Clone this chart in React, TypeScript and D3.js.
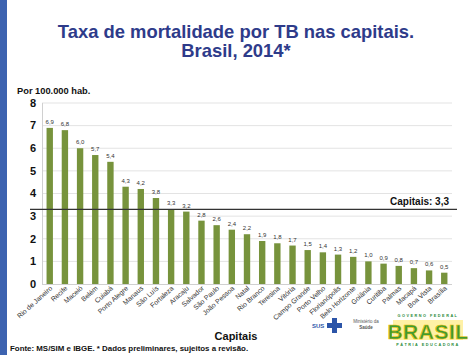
import React from "react";
import * as d3 from "d3";

const cities = ["Rio de Janeiro","Recife","Maceió","Belém","Cuiabá","Porto Alegre","Manaus","São Luís","Fortaleza","Aracaju","Salvador","São Paulo","João Pessoa","Natal","Rio Branco","Teresina","Vitória","Campo Grande","Porto Velho","Florianópolis","Belo Horizonte","Goiânia","Curitiba","Palmas","Macapá","Boa Vista","Brasília"];
const rates = [6.9,6.8,6.0,5.7,5.4,4.3,4.2,3.8,3.3,3.2,2.8,2.6,2.4,2.2,1.9,1.8,1.7,1.5,1.4,1.3,1.2,1.0,0.9,0.8,0.7,0.6,0.5];
const yTicks = [0,1,2,3,4,5,6,7,8];
const capitalsAvg = 3.3;

const fmt = (v: number) => v.toFixed(1).replace(".", ",");

export default function App() {
  const W = 474, H = 355;
  const x = d3.scaleBand<string>().domain(cities).range([42, 452]).paddingInner(0.58).paddingOuter(0.3);
  const y = d3.scaleLinear().domain([0, 8]).range([284, 103]);
  const green = "#77933c";
  const font = "Liberation Sans, Arial, Helvetica, sans-serif";
  return (
    <svg width={W} height={H} style={{ position: "absolute", left: 0, top: 0, background: "#fff" }} fontFamily={font}>
      <rect x={0} y={0} width={W} height={H} fill="#fff" />
      <rect x={0} y={0} width={7} height={H} fill="#3d63b0" />
      <text x={236} y={37.5} textAnchor="middle" fontSize={18.4} fontWeight="bold" fill="#2e3b8a">Taxa de mortalidade por TB nas capitais.</text>
      <text x={236} y={57} textAnchor="middle" fontSize={18.4} fontWeight="bold" fill="#2e3b8a">Brasil, 2014*</text>
      <text x={17} y={94} fontSize={9.3} fontWeight="bold" fill="#111">Por 100.000 hab.</text>
      {yTicks.map(t => (
        <g key={t}>
          {t > 0 && <line x1={42} x2={452} y1={y(t)} y2={y(t)} stroke="#e3e3e3" strokeWidth={1} />}
          <text x={36} y={y(t)} dy="0.35em" textAnchor="end" fontSize={11} fontWeight="bold" fill="#111">{t}</text>
        </g>
      ))}
      <line x1={42.5} x2={42.5} y1={103} y2={284} stroke="#d0d0d0" />
      <line x1={42} x2={452} y1={284.5} y2={284.5} stroke="#d0d0d0" />
      {cities.map((c, i) => {
        const cx = (x(c) as number) + x.bandwidth() / 2;
        return (
          <g key={c}>
            <rect x={x(c)} y={y(rates[i])} width={x.bandwidth()} height={y(0) - y(rates[i])} fill={green} />
            <text x={cx} y={y(rates[i]) - 4} textAnchor="middle" fontSize={6} fill="#333">{fmt(rates[i])}</text>
            <text transform={`translate(${cx + 3},${289}) rotate(-42)`} textAnchor="end" fontSize={6.9} fill="#333">{c}</text>
          </g>
        );
      })}
      <line x1={30} x2={457} y1={y(capitalsAvg)} y2={y(capitalsAvg)} stroke="#333" strokeWidth={1.3} />
      <text x={449} y={y(capitalsAvg) - 4} textAnchor="end" fontSize={10} fontWeight="bold" fill="#111">Capitais: {fmt(capitalsAvg)}</text>
      <text x={236} y={340} textAnchor="middle" fontSize={11} fontWeight="bold" fill="#111">Capitais</text>
      <text x={10} y={351} fontSize={7.9} fontWeight="bold" fill="#111">Fonte: MS/SIM e IBGE. * Dados preliminares, sujeitos a revisão.</text>
      {/* logos */}
      <text x={312} y={328} fontSize={6} fontWeight="bold" fill="#2c55a8">SUS</text>
      <rect x={327} y={323} width={15} height={5} fill="#2c55a8" />
      <rect x={332} y={318} width={5} height={15} fill="#2c55a8" />
      <text x={366} y={323} textAnchor="middle" fontSize={4.5} fill="#555">Ministério da</text>
      <text x={366} y={329} textAnchor="middle" fontSize={4.5} fontWeight="bold" fill="#555">Saúde</text>
      <text x={428} y={317} textAnchor="middle" fontSize={3.8} fontWeight="bold" fill="#2a8a3a" letterSpacing={1.5}>GOVERNO FEDERAL</text>
      <rect x={393} y={320} width={70} height={20} fill="#ffd800" opacity={0.35} />
      <text x={428} y={339} textAnchor="middle" fontSize={21} fontWeight="900" fill="#3f9b34" stroke="#f2c200" strokeWidth={0.6} letterSpacing={0.5}>BRASIL</text>
      <text x={428} y={346} textAnchor="middle" fontSize={3.8} fontWeight="bold" fill="#2a8a3a" letterSpacing={1.5}>PÁTRIA EDUCADORA</text>
    </svg>
  );
}
